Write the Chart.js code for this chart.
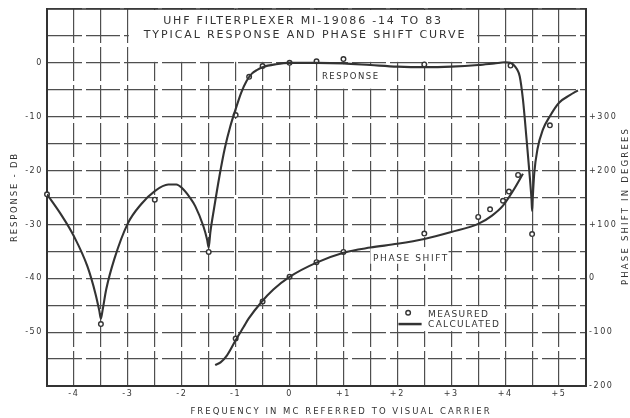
<!DOCTYPE html>
<html><head><meta charset="utf-8">
<style>html,body{margin:0;padding:0;background:#fff;}#wrap{width:630px;height:418px;}</style>
<script src="https://cdn.jsdelivr.net/npm/chart.js@4.4.1/dist/chart.umd.min.js"></script>
</head><body><div id="wrap"><canvas id="c" width="630" height="418"></canvas></div>
<script>
// ---- text ----
const titleLines = ['UHF FILTERPLEXER MI-19086 -14 TO 83', 'TYPICAL RESPONSE AND PHASE SHIFT CURVE'];
const xTitle = 'FREQUENCY IN MC REFERRED TO VISUAL CARRIER';
const yTitle = 'RESPONSE - DB';
const y2Title = 'PHASE SHIFT IN DEGREES';
const responseLabel = 'RESPONSE';
const phaseLabel = 'PHASE SHIFT';
const legendLabels = ['MEASURED', 'CALCULATED'];

// ---- tick labels ----
const xTickValues = [-4, -3, -2, -1, 0, 1, 2, 3, 4, 5];
const xTickLabels = ['-4', '-3', '-2', '-1', '0', '+1', '+2', '+3', '+4', '+5'];
const yTickValues = [0, -10, -20, -30, -40, -50];
const yTickLabels = ['0', '-10', '-20', '-30', '-40', '-50'];
const y2TickValues = [300, 200, 100, 0, -100, -200];
const y2TickLabels = ['+300', '+200', '+100', '0', '-100', '-200'];

// ---- calculated response (MC, dB) ----
const respCalcMc = [-4.5,-4.25,-4.0,-3.75,-3.6,-3.53,-3.5,-3.47,-3.4,-3.25,-3.0,-2.75,-2.5,-2.25,-2.1,-2.0,-1.85,-1.75,-1.6,-1.53,-1.5,-1.47,-1.4,-1.3,-1.2,-1.1,-1.0,-0.9,-0.8,-0.7,-0.6,-0.5,-0.25,0,0.5,1.0,1.5,2.0,2.5,3.0,3.5,3.8,4.0,4.1,4.15,4.22,4.27,4.33,4.4,4.46,4.49,4.5,4.51,4.54,4.6,4.7,4.83,5.0,5.2,5.35];
const respCalcDb = [-24.4,-28.0,-32.2,-37.8,-42.9,-46.0,-47.5,-46.0,-42.0,-36.4,-29.8,-26.2,-23.8,-22.6,-22.6,-23.2,-25.0,-26.6,-30.3,-32.8,-34.3,-31.5,-27.0,-21.0,-15.8,-11.8,-8.6,-5.6,-3.4,-2.0,-1.3,-0.8,-0.25,0,0,-0.1,-0.4,-0.7,-0.8,-0.7,-0.4,-0.1,0.1,0,-0.3,-1.2,-2.5,-6.8,-14.5,-21.5,-25.5,-27.5,-25.5,-20.5,-16.0,-12.4,-9.9,-7.4,-6.0,-5.1];

// ---- calculated phase shift (MC, degrees) ----
const phaseCalcMc = [-1.38,-1.28,-1.16,-1.0,-0.85,-0.76,-0.52,-0.3,0,0.5,1.0,1.5,2.0,2.5,3.0,3.5,3.75,3.96,4.15,4.33];
const phaseCalcDeg = [-161,-156,-143,-115,-90,-75,-44,-21,2.5,29,47.5,57,64,73,86,101,116,135,163,194];

// ---- measured points ----
const respMeasMc = [-4.5,-3.5,-2.5,-1.5,-1.0,-0.75,-0.5,0,0.5,1.0,2.5,4.1,4.5,4.83];
const respMeasDb = [-24.4,-48.5,-25.4,-35.1,-9.7,-2.6,-0.6,0,0.3,0.7,-0.3,-0.5,-31.8,-11.6];
const phaseMeasMc = [-1.0,-0.5,0,0.5,1.0,2.5,3.5,3.72,3.96,4.07,4.24];
const phaseMeasDeg = [-112,-43,3,30,49,83,114,128,144,161,192];

const ink = '#333333';
const gridInk = '#4f4f4f';
const FONT = '"DejaVu Sans", sans-serif';

const pts = (xs, ys) => xs.map((x, i) => ({x: x, y: ys[i]}));
const lab = (vals, labels) => v => { const i = vals.indexOf(Math.round(v * 1000) / 1000); return i >= 0 ? labels[i] : ''; };

function drawSpaced(c, txt, x, y, size, spacing, align) {
  c.save();
  c.font = size + 'px ' + FONT;
  c.letterSpacing = spacing + 'px';
  c.fillStyle = ink;
  c.textAlign = align || 'left';
  c.textBaseline = 'alphabetic';
  c.fillText(txt, x, y);
  c.restore();
}

const paperPlugin = {
  id: 'paper',
  beforeDraw(chart) {
    const c = chart.ctx;
    c.save(); c.fillStyle = '#fff'; c.fillRect(0, 0, chart.width, chart.height); c.restore();
    c.letterSpacing = '1.6px';
  },
  beforeDatasetsDraw(chart) {
    const c = chart.ctx, a = chart.chartArea;
    const X = v => chart.scales.x.getPixelForValue(v);
    const Y = v => chart.scales.y.getPixelForValue(v);
    c.save();
    c.fillStyle = '#fff';
    // blank title block
    c.fillRect(X(-3) + 1, a.top + 1, X(3.5) - X(-3) - 2, Y(0) - a.top - 2);
    // blank legend block
    c.fillRect(X(2) + 1, Y(-45) + 1, X(4) - X(2) - 2, Y(-50) - Y(-45) - 2);
    // blank behind curve labels
    c.fillRect(X(0.53), Y(-0.25), X(1.75) - X(0.53), Y(-4.8) - Y(-0.25));
    c.fillRect(X(1.5), Y(-34.2), X(2.95) - X(1.5), Y(-37.3) - Y(-34.2));
    // top frame line
    c.strokeStyle = ink; c.lineWidth = 1.3;
    c.beginPath(); c.moveTo(a.left, a.top); c.lineTo(a.right, a.top); c.stroke();
    c.restore();
  },
  afterDraw(chart) {
    const c = chart.ctx;
    const X = v => chart.scales.x.getPixelForValue(v);
    const Y = v => chart.scales.y.getPixelForValue(v);
    // title
    drawSpaced(c, titleLines[0], 303, 24, 11, 1.8, 'center');
    drawSpaced(c, titleLines[1], 305, 37.5, 11, 1.9, 'center');
    // axis titles
    drawSpaced(c, xTitle, 341, 413.5, 8.5, 2.05, 'center');
    c.save(); c.translate(16.5, 197); c.rotate(-Math.PI / 2);
    drawSpaced(c, yTitle, 0, 0, 8.5, 1.8, 'center'); c.restore();
    c.save(); c.translate(628, 206); c.rotate(-Math.PI / 2);
    drawSpaced(c, y2Title, 0, 0, 8.5, 2.2, 'center'); c.restore();
    // curve labels
    drawSpaced(c, responseLabel, X(0.6), Y(-2.96), 8.5, 1.5, 'left');
    drawSpaced(c, phaseLabel, X(1.55), Y(-36.7), 9, 1.6, 'left');
    // legend
    c.save();
    c.strokeStyle = ink; c.fillStyle = '#fff'; c.lineWidth = 1.4;
    c.beginPath(); c.arc(X(2.2), Y(-46.4), 2.3, 0, Math.PI * 2); c.fill(); c.stroke();
    c.lineWidth = 2.5;
    c.beginPath(); c.moveTo(X(2.02), Y(-48.5)); c.lineTo(X(2.45), Y(-48.5)); c.stroke();
    c.restore();
    drawSpaced(c, legendLabels[0], X(2.57), Y(-47.2), 9, 1.3, 'left');
    drawSpaced(c, legendLabels[1], X(2.57), Y(-49.1), 9, 1.3, 'left');
  }
};

const tickFont = {family: FONT, size: 8};
const gridBase = {color: gridInk, lineWidth: 1.2, drawTicks: false};

new Chart(document.getElementById('c'), {
  type: 'scatter',
  data: {
    datasets: [
      {label: 'Response calculated', data: pts(respCalcMc, respCalcDb), yAxisID: 'y', showLine: true, pointRadius: 0,
       borderColor: ink, borderWidth: 2.1, cubicInterpolationMode: 'monotone', fill: false},
      {label: 'Phase calculated', data: pts(phaseCalcMc, phaseCalcDeg), yAxisID: 'y2', showLine: true, pointRadius: 0,
       borderColor: ink, borderWidth: 2.1, cubicInterpolationMode: 'monotone', fill: false},
      {label: 'Response measured', data: pts(respMeasMc, respMeasDb), yAxisID: 'y', showLine: false, pointRadius: 2.3,
       pointBorderWidth: 1.4, pointBorderColor: ink, pointBackgroundColor: '#fff', clip: 8},
      {label: 'Phase measured', data: pts(phaseMeasMc, phaseMeasDeg), yAxisID: 'y2', showLine: false, pointRadius: 2.3,
       pointBorderWidth: 1.4, pointBorderColor: ink, pointBackgroundColor: '#fff', clip: 8}
    ]
  },
  options: {
    responsive: false, animation: false, devicePixelRatio: 1,
    layout: {padding: {top: 9, left: 0, right: 0, bottom: 0}},
    plugins: {legend: {display: false}, tooltip: {enabled: false}},
    scales: {
      x: {type: 'linear', position: 'bottom', min: -4.5, max: 5.5,
          afterFit(s) { s.height = 32; },
          ticks: {stepSize: 0.5, autoSkip: false, maxRotation: 0, padding: 3, font: tickFont, color: ink,
                  callback: lab(xTickValues, xTickLabels)},
          grid: gridBase, border: {display: true, width: 2, color: ink, dash: [34, 4]}},
      y: {type: 'linear', position: 'left', min: -60, max: 10,
          afterFit(s) { s.width = 47; },
          ticks: {stepSize: 5, autoSkip: false, padding: 4, font: tickFont, color: ink,
                  callback: lab(yTickValues, yTickLabels)},
          grid: gridBase, border: {display: true, width: 2, color: ink, dash: [34, 4]}},
      y2: {type: 'linear', position: 'right', min: -200, max: 500,
          afterFit(s) { s.width = 44; },
          ticks: {stepSize: 100, autoSkip: false, padding: 3, font: tickFont, color: ink,
                  callback: lab(y2TickValues, y2TickLabels)},
          grid: {drawOnChartArea: false, drawTicks: false}, border: {display: true, width: 2, color: ink}}
    }
  },
  plugins: [paperPlugin]
});
</script></body></html>
